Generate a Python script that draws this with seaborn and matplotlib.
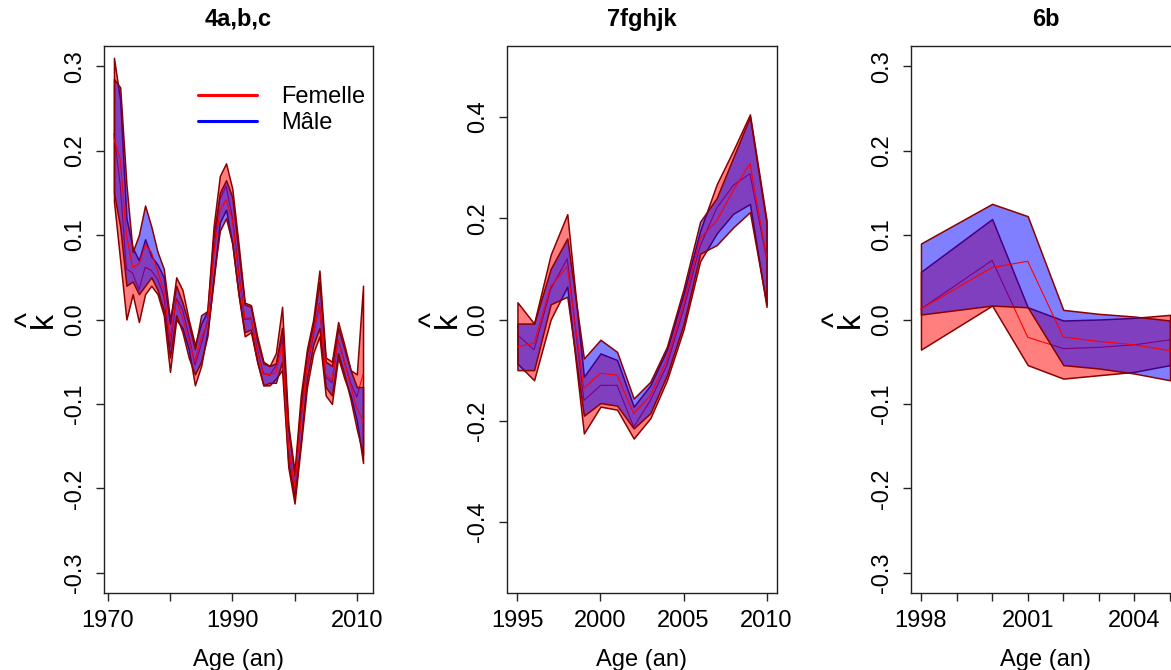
import numpy as np
import pandas as pd
import matplotlib
matplotlib.use("Agg")
import matplotlib.pyplot as plt
from matplotlib.lines import Line2D
import seaborn as sns

# ---------------- data ----------------
# Panel 1 : 4a,b,c
years1 = list(range(1971, 2012))
f_lo1 = [0.14, 0.07, 0.0, 0.03, -0.003, 0.03, 0.04, 0.03, 0.005, -0.062,
         0.0, -0.01, -0.035, -0.078, -0.055, -0.015, 0.045, 0.115, 0.13, 0.09,
         0.03, -0.02, -0.015, -0.05, -0.078, -0.078, -0.07, -0.06, -0.175, -0.218,
         -0.15, -0.08, -0.04, -0.02, -0.09, -0.1, -0.045, -0.07, -0.09, -0.12, -0.17]
f_hi1 = [0.31, 0.26, 0.12, 0.085, 0.07, 0.095, 0.075, 0.065, 0.05, -0.005,
         0.05, 0.035, 0.0, -0.03, -0.005, 0.01, 0.11, 0.17, 0.185, 0.155,
         0.09, 0.02, 0.017, -0.02, -0.05, -0.055, -0.04, 0.015, -0.125, -0.18,
         -0.09, -0.035, 0.0, 0.058, -0.045, -0.05, -0.003, -0.03, -0.06, -0.065, 0.04]
f_mean1 = [0.22, 0.16, 0.06, 0.055, 0.035, 0.062, 0.058, 0.048, 0.028, -0.034,
           0.025, 0.012, -0.018, -0.054, -0.03, -0.002, 0.078, 0.142, 0.158, 0.122,
           0.06, 0.0, 0.001, -0.035, -0.064, -0.066, -0.055, -0.022, -0.15, -0.2,
           -0.12, -0.058, -0.02, 0.019, -0.068, -0.075, -0.024, -0.05, -0.075, -0.092, -0.065]
m_lo1 = [0.15, 0.11, 0.04, 0.045, 0.03, 0.04, 0.05, 0.035, 0.01, -0.045,
         0.005, -0.015, -0.045, -0.065, -0.05, -0.02, 0.05, 0.105, 0.12, 0.09,
         0.03, -0.015, -0.012, -0.05, -0.078, -0.075, -0.075, -0.05, -0.17, -0.21,
         -0.145, -0.07, -0.03, -0.01, -0.08, -0.09, -0.04, -0.065, -0.095, -0.13, -0.16]
m_hi1 = [0.285, 0.275, 0.16, 0.08, 0.1, 0.135, 0.11, 0.08, 0.06, 0.0,
         0.04, 0.02, -0.005, -0.035, 0.005, 0.01, 0.1, 0.15, 0.165, 0.145,
         0.08, 0.018, 0.015, -0.025, -0.052, -0.055, -0.052, -0.01, -0.13, -0.185,
         -0.1, -0.04, -0.005, 0.045, -0.05, -0.055, -0.01, -0.035, -0.06, -0.08, -0.08]
m_mean1 = [0.215, 0.19, 0.1, 0.062, 0.065, 0.088, 0.08, 0.058, 0.035, -0.022,
           0.022, 0.003, -0.025, -0.05, -0.022, -0.005, 0.075, 0.128, 0.142, 0.118,
           0.055, 0.002, 0.002, -0.038, -0.065, -0.065, -0.063, -0.03, -0.15, -0.198,
           -0.122, -0.055, -0.018, 0.018, -0.065, -0.072, -0.025, -0.05, -0.078, -0.105, -0.12]

# Panel 2 : 7fghjk
years2 = list(range(1995, 2011))
f_lo2 = [-0.087, -0.12, 0.0, 0.065, -0.225, -0.172, -0.178, -0.235, -0.195, -0.12,
         -0.02, 0.115, 0.17, 0.209, 0.228, 0.025]
f_hi2 = [0.034, -0.008, 0.128, 0.208, -0.113, -0.067, -0.08, -0.172, -0.13, -0.06,
         0.05, 0.175, 0.267, 0.334, 0.405, 0.196]
f_mean2 = [-0.03, -0.06, 0.06, 0.12, -0.16, -0.13, -0.13, -0.212, -0.16, -0.09,
           0.02, 0.145, 0.22, 0.265, 0.288, 0.12]
m_lo2 = [-0.1, -0.1, 0.03, 0.045, -0.19, -0.165, -0.17, -0.215, -0.185, -0.11,
         -0.01, 0.13, 0.147, 0.182, 0.212, 0.03]
m_hi2 = [-0.008, -0.008, 0.1, 0.16, -0.077, -0.04, -0.064, -0.156, -0.123, -0.054,
         0.06, 0.193, 0.24, 0.32, 0.4, 0.19]
m_mean2 = [-0.054, -0.047, 0.065, 0.105, -0.136, -0.106, -0.11, -0.186, -0.15, -0.08,
           0.03, 0.16, 0.195, 0.255, 0.308, 0.124]

# Panel 3 : 6b
years3 = [1998, 2000, 2001, 2002, 2003, 2004, 2005]
f_lo3 = [-0.0357, 0.0165, -0.054, -0.070, -0.066, -0.062, -0.054]
f_hi3 = [0.0565, 0.119, 0.0145, -0.0012, 0.0, 0.002, 0.0055]
f_mean3 = [0.0125, 0.070, -0.021, -0.0345, -0.033, -0.030, -0.024]
m_lo3 = [0.0059, 0.0165, 0.0145, -0.054, -0.058, -0.064, -0.072]
m_hi3 = [0.090, 0.137, 0.1224, 0.0114, 0.0067, 0.0035, -0.0012]
m_mean3 = [0.0125, 0.0616, 0.069, -0.0208, -0.026, -0.030, -0.037]

titles = ["4a,b,c", "7fghjk", "6b"]
legend_labels = ["Femelle", "Mâle"]
xlabel = "Age (an)"
ylabel = "^\nk"   # k with a hat

x_ticks1 = [1970, 1980, 1990, 2000, 2010]
x_labels1 = ["1970", "", "1990", "", "2010"]
x_ticks2 = [1995, 2000, 2005, 2010]
x_labels2 = ["1995", "2000", "2005", "2010"]
x_ticks3 = [1998, 1999, 2000, 2001, 2002, 2003, 2004, 2005]
x_labels3 = ["1998", "", "", "2001", "", "", "2004", ""]
y_ticks13 = [-0.3, -0.2, -0.1, 0.0, 0.1, 0.2, 0.3]
y_ticks2 = [-0.4, -0.2, 0.0, 0.2, 0.4]

# ---------------- style ----------------
sns.set_style("white")
plt.rcParams['font.family'] = ['Liberation Sans', 'DejaVu Sans']
plt.rcParams['axes.unicode_minus'] = False
plt.rcParams['text.color'] = 'black'
plt.rcParams['axes.labelcolor'] = 'black'
plt.rcParams['xtick.color'] = 'black'
plt.rcParams['ytick.color'] = 'black'

W, H = 1171, 670
fig = plt.figure(figsize=(W / 100, H / 100), dpi=100)

ax_bottom_px, ax_top_px = 593, 46
ax_w_px = 269
lefts_px = [104, 507.5, 911]

EDGE = '#8B0000'
FS = 17


def draw(ax, years, f_lo, f_mean, f_hi, m_lo, m_mean, m_hi):
    ax.fill_between(years, f_lo, f_hi, facecolor=(1, 0, 0, 0.5),
                    edgecolor=EDGE, linewidth=1.1, zorder=2)
    sns.lineplot(x=years, y=f_mean, ax=ax, color='red', linewidth=0.8, zorder=3)
    ax.fill_between(years, m_lo, m_hi, facecolor=(0, 0, 1, 0.5),
                    edgecolor=EDGE, linewidth=1.1, zorder=4)
    sns.lineplot(x=years, y=m_mean, ax=ax, color='red', linewidth=0.8, zorder=5)


panels = [
    (years1, f_lo1, f_mean1, f_hi1, m_lo1, m_mean1, m_hi1,
     (1969.4, 2012.6), (-0.324, 0.324), x_ticks1, x_labels1, y_ticks13),
    (years2, f_lo2, f_mean2, f_hi2, m_lo2, m_mean2, m_hi2,
     (1994.4, 2010.6), (-0.54, 0.54), x_ticks2, x_labels2, y_ticks2),
    (years3, f_lo3, f_mean3, f_hi3, m_lo3, m_mean3, m_hi3,
     (1997.72, 2005.28), (-0.324, 0.324), x_ticks3, x_labels3, y_ticks13),
]

axes = []
for i, p in enumerate(panels):
    (yrs, flo, fme, fhi, mlo, mme, mhi, xl, yl, xt, xtl, yt) = p
    left = lefts_px[i]
    ax = fig.add_axes([left / W, 1 - ax_bottom_px / H, ax_w_px / W,
                       (ax_bottom_px - ax_top_px) / H])
    draw(ax, yrs, flo, fme, fhi, mlo, mme, mhi)
    ax.set_xlim(*xl)
    ax.set_ylim(*yl)
    ax.set_xticks(xt)
    ax.set_xticklabels(xtl)
    ax.set_yticks(yt)
    ax.set_yticklabels([f"{v:.1f}" for v in yt], rotation=90, va='center')
    ax.tick_params(axis='both', direction='out', length=5.5, width=1.0,
                   color='#222222', labelsize=FS, bottom=True, left=True)
    ax.tick_params(axis='x', pad=7)
    ax.tick_params(axis='y', pad=7.5)
    for s in ax.spines.values():
        s.set_color('#222222')
        s.set_linewidth(1.0)
        s.set_visible(True)
    ax.set_title(titles[i], fontsize=FS, fontweight='bold', pad=14.5)
    ax.set_xlabel(xlabel, fontsize=FS, labelpad=12)
    ax.set_ylabel("")
    # y label: k with a hat (hat is the first, leftmost line when rotated)
    ax.text(-67.5 / ax_w_px, 0.5, ylabel, transform=ax.transAxes, rotation=90,
            ha='center', va='center', multialignment='center',
            linespacing=0.35, fontsize=23)
    axes.append(ax)

handles = [Line2D([], [], color='red', lw=2.2), Line2D([], [], color='blue', lw=2.2)]
axes[0].legend(handles=handles, labels=legend_labels, loc='upper left',
               bbox_to_anchor=((198 - 104) / ax_w_px, 0.926), frameon=False,
               fontsize=FS, handlelength=2.5, handletextpad=1.0,
               labelspacing=0.15, borderpad=0, borderaxespad=0)

fig.savefig("out.png", dpi=100)
